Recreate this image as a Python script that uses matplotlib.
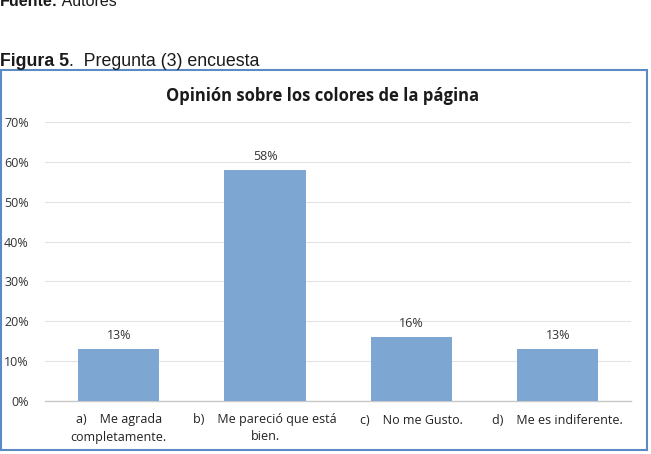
import matplotlib
matplotlib.use("Agg")
import matplotlib.pyplot as plt
from matplotlib.patches import Rectangle

categories = ["a)    Me agrada\ncompletamente.", "b)    Me pareció que está\nbien.",
              "c)    No me Gusto.", "d)    Me es indiferente."]
values = [0.13, 0.58, 0.16, 0.13]
value_labels = ["13%", "58%", "16%", "13%"]
yticks = [0, 0.1, 0.2, 0.3, 0.4, 0.5, 0.6, 0.7]
ytick_labels = ["0%", "10%", "20%", "30%", "40%", "50%", "60%", "70%"]

W, H = 651, 454
fig = plt.figure(figsize=(W / 100, H / 100), dpi=100)
fig.patch.set_facecolor("white")

def fx(x):
    return x / W

def fy(y):
    return 1 - y / H

renderer = fig.canvas.get_renderer()

def two_part(x0, y0, bold_txt, reg_txt, size):
    t = fig.text(fx(x0), fy(y0), bold_txt, fontsize=size, fontweight="bold", family="Liberation Sans",
                 va="center", ha="left", color="#1a1a1a")
    bb = t.get_window_extent(renderer=renderer)
    fig.text(bb.x1 / W, fy(y0), reg_txt, fontsize=size, family="Liberation Sans",
             va="center", ha="left", color="#1a1a1a")

# document text above chart
two_part(0, 1, "Fuente:", " Autores", 11.5)
two_part(0, 62, "Figura 5", ".  Pregunta (3) encuesta", 12.8)

# chart border
fig.patches.append(Rectangle((fx(1), fy(450)), fx(647) - fx(1), fy(70) - fy(450),
                             transform=fig.transFigure, fill=False, edgecolor="#5B8BC4", linewidth=1.5))

fig.text(fx(323), fy(96), "Opinión sobre los colores de la página", fontsize=12, fontweight="bold",
         family="Open Sans", ha="center", va="center", color="#1a1a1a")

ax = fig.add_axes([fx(45.5), fy(401), fx(631) - fx(45.5), fy(122) - fy(401)])
x = range(len(categories))
ax.bar(x, values, width=0.555, color="#7EA6D3", zorder=3)
ax.set_xlim(-0.5, len(categories) - 0.5)
ax.set_ylim(0, 0.7)
ax.set_yticks(yticks)
ax.set_yticklabels(ytick_labels, family="Open Sans", fontsize=9, color="#333333")
ax.set_xticks(list(x))
ax.set_xticklabels(categories, family="Open Sans", fontsize=9, color="#222222", linespacing=1.4)
ax.tick_params(axis="both", length=0)
ax.tick_params(axis="y", pad=12)
ax.tick_params(axis="x", pad=9)
ax.grid(axis="y", color="#e3e3e3", linewidth=0.8, zorder=0)
for s in ["top", "right", "left"]:
    ax.spines[s].set_visible(False)
ax.spines["bottom"].set_color("#c8c8c8")
ax.spines["bottom"].set_linewidth(1.0)
for xi, v, lab in zip(x, values, value_labels):
    ax.text(xi, v + 0.018, lab, ha="center", va="bottom", fontsize=9, family="Open Sans", color="#333333")

fig.savefig("out.png", dpi=100)
